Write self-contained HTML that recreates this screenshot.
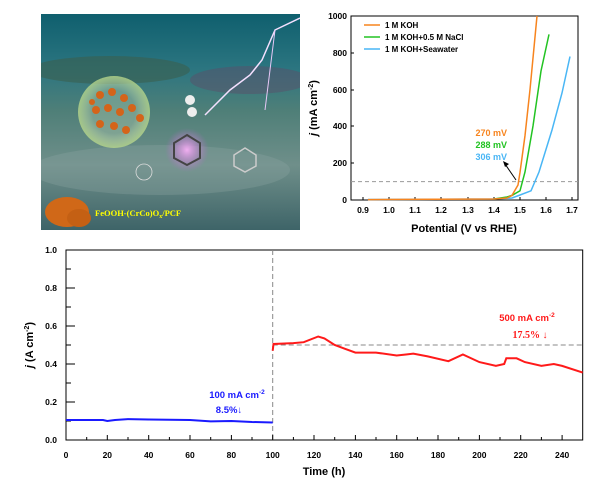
<!DOCTYPE html>
<html><head><meta charset="utf-8"><style>
html,body{margin:0;padding:0;background:#fff;}
svg{display:block;font-family:"Liberation Sans",Arial,sans-serif;}
</style></head><body>
<svg width="600" height="486" viewBox="0 0 600 486" xmlns="http://www.w3.org/2000/svg">
<defs>
<linearGradient id="sea" x1="0" y1="0" x2="0" y2="1">
<stop offset="0" stop-color="#0f5f6e"/><stop offset="0.25" stop-color="#2b7580"/>
<stop offset="0.45" stop-color="#4f7f78"/><stop offset="0.7" stop-color="#6f8f8a"/><stop offset="1" stop-color="#3e6468"/>
</linearGradient>
<radialGradient id="bub" cx="0.5" cy="0.5" r="0.5">
<stop offset="0.6" stop-color="#cfe6c0" stop-opacity="0.3"/><stop offset="1" stop-color="#b8d88a" stop-opacity="0.8"/>
</radialGradient>
<radialGradient id="glow" cx="0.5" cy="0.5" r="0.5">
<stop offset="0" stop-color="#f0b0f0"/><stop offset="1" stop-color="#c060d0" stop-opacity="0"/>
</radialGradient>
<clipPath id="imgc"><rect x="41" y="14" width="259" height="216"/></clipPath>
</defs>
<!-- illustration -->
<g clip-path="url(#imgc)">
<rect x="41" y="14" width="259" height="216" fill="url(#sea)"/>
<ellipse cx="110" cy="70" rx="80" ry="14" fill="#3a5f4e" opacity="0.6"/>
<ellipse cx="250" cy="80" rx="60" ry="14" fill="#5a4f6a" opacity="0.5"/>
<ellipse cx="160" cy="170" rx="130" ry="25" fill="#8aa4a0" opacity="0.35"/>
<circle cx="114" cy="112" r="36" fill="url(#bub)"/>
<g fill="#d4641a">
<circle cx="100" cy="95" r="4"/><circle cx="112" cy="92" r="4"/><circle cx="124" cy="98" r="4"/><circle cx="96" cy="110" r="4"/>
<circle cx="108" cy="108" r="4"/><circle cx="120" cy="112" r="4"/><circle cx="132" cy="108" r="4"/><circle cx="100" cy="124" r="4"/>
<circle cx="114" cy="126" r="4"/><circle cx="126" cy="130" r="4"/><circle cx="140" cy="118" r="4"/><circle cx="92" cy="102" r="3"/>
</g>
<circle cx="187" cy="150" r="22" fill="url(#glow)"/>
<polygon points="187,135 200,143 200,158 187,165 174,158 174,143" fill="none" stroke="#444" stroke-width="2"/>
<polygon points="245,148 256,155 256,166 245,172 234,166 234,155" fill="none" stroke="#ccc" stroke-width="1.5"/>
<polyline points="300,18 275,30 262,60 250,75 230,90 205,115" fill="none" stroke="#f4e0ff" stroke-width="1.5"/>
<polyline points="275,30 270,70 265,110" fill="none" stroke="#e8c8f8" stroke-width="1"/>
<circle cx="190" cy="100" r="5" fill="#eee"/><circle cx="192" cy="112" r="5" fill="#eee"/>
<circle cx="144" cy="172" r="8" fill="none" stroke="#ddd" stroke-width="0.8"/>
<ellipse cx="67" cy="212" rx="22" ry="15" fill="#d06818"/><ellipse cx="79" cy="218" rx="12" ry="9" fill="#c46014"/>
<text x="95" y="216" font-family="Liberation Serif,serif" font-weight="bold" font-size="8.5" fill="#ffff00">FeOOH-(CrCo)O<tspan font-size="6" dy="2">x</tspan><tspan dy="-2">/PCF</tspan></text>
</g>

<!-- top-right LSV -->
<g>
<rect x="351" y="16" width="227" height="184" fill="none" stroke="#000" stroke-width="1"/>
<line x1="351" y1="181.6" x2="578" y2="181.6" stroke="#999" stroke-dasharray="4,3" stroke-width="1"/>
<g stroke="#000" stroke-width="1">
<line x1="363" y1="200" x2="363" y2="197"/><line x1="389" y1="200" x2="389" y2="197"/><line x1="415" y1="200" x2="415" y2="197"/><line x1="441" y1="200" x2="441" y2="197"/><line x1="468" y1="200" x2="468" y2="197"/><line x1="494" y1="200" x2="494" y2="197"/><line x1="520" y1="200" x2="520" y2="197"/><line x1="546" y1="200" x2="546" y2="197"/><line x1="572" y1="200" x2="572" y2="197"/>
<line x1="351" y1="163" x2="354" y2="163"/><line x1="351" y1="126" x2="354" y2="126"/><line x1="351" y1="90" x2="354" y2="90"/><line x1="351" y1="53" x2="354" y2="53"/>
</g>
<g font-size="8.5" font-weight="bold" text-anchor="middle">
<text x="363" y="213">0.9</text><text x="389" y="213">1.0</text><text x="415" y="213">1.1</text><text x="441" y="213">1.2</text><text x="468" y="213">1.3</text><text x="494" y="213">1.4</text><text x="520" y="213">1.5</text><text x="546" y="213">1.6</text><text x="572" y="213">1.7</text>
</g>
<g font-size="8.5" font-weight="bold" text-anchor="end">
<text x="347" y="203">0</text><text x="347" y="166">200</text><text x="347" y="129">400</text><text x="347" y="93">600</text><text x="347" y="56">800</text><text x="347" y="19">1000</text>
</g>
<text x="464" y="232" font-size="11" font-weight="bold" text-anchor="middle">Potential (V vs RHE)</text>
<text transform="translate(317,108) rotate(-90)" font-size="11" font-weight="bold" text-anchor="middle"><tspan font-style="italic">j</tspan> (mA cm<tspan font-size="7" dy="-4">-2</tspan><tspan dy="4">)</tspan></text>
<line x1="364" y1="25" x2="380" y2="25" stroke="#f7841e" stroke-width="1.5"/><text x="385" y="28" font-size="8" font-weight="bold">1 M KOH</text>
<line x1="364" y1="37" x2="380" y2="37" stroke="#22c322" stroke-width="1.5"/><text x="385" y="40" font-size="8" font-weight="bold">1 M KOH+0.5 M NaCl</text>
<line x1="364" y1="49" x2="380" y2="49" stroke="#49b6f5" stroke-width="1.5"/><text x="385" y="52" font-size="8" font-weight="bold">1 M KOH+Seawater</text>
<g font-size="9" font-weight="bold" text-anchor="end">
<text x="507" y="136" fill="#f7841e">270 mV</text><text x="507" y="148" fill="#22c322">288 mV</text><text x="507" y="160" fill="#49b6f5">306 mV</text>
</g>
<line x1="516" y1="180" x2="505" y2="164" stroke="#000" stroke-width="1"/><polygon points="503,161 509,164 505,167" fill="#000"/>
<polyline fill="none" stroke="#49b6f5" stroke-width="1.5" points="368,199.5 494,199 512,198 520,195 531,190.8 539,172 552,130 562,93 570,56.5"/>
<polyline fill="none" stroke="#22c322" stroke-width="1.5" points="494,199 507,197 512,195.4 520,190.8 525,172 533,126 541,71 549,34.4"/>
<polyline fill="none" stroke="#f7841e" stroke-width="1.5" points="368,199.6 494,199 507,198 512,195.4 518,185 520,172.4 525,135.6 530,89.6 537,16"/>
</g>

<!-- bottom stability -->
<g>
<rect x="66" y="250" width="516.7" height="190" fill="none" stroke="#000" stroke-width="1"/>
<line x1="272.7" y1="250" x2="272.7" y2="440" stroke="#888" stroke-dasharray="5,3" stroke-width="1"/>
<line x1="272.7" y1="345" x2="582.7" y2="345" stroke="#888" stroke-dasharray="5,3" stroke-width="1"/>
<g stroke="#000" stroke-width="1">
<line x1="107.3" y1="440" x2="107.3" y2="435"/><line x1="148.7" y1="440" x2="148.7" y2="435"/><line x1="190" y1="440" x2="190" y2="435"/><line x1="231.4" y1="440" x2="231.4" y2="435"/><line x1="272.7" y1="440" x2="272.7" y2="435"/><line x1="314" y1="440" x2="314" y2="435"/><line x1="355.4" y1="440" x2="355.4" y2="435"/><line x1="396.7" y1="440" x2="396.7" y2="435"/><line x1="438" y1="440" x2="438" y2="435"/><line x1="479.4" y1="440" x2="479.4" y2="435"/><line x1="520.7" y1="440" x2="520.7" y2="435"/><line x1="562.1" y1="440" x2="562.1" y2="435"/>
<line x1="86.7" y1="440" x2="86.7" y2="437"/><line x1="128" y1="440" x2="128" y2="437"/><line x1="169.4" y1="440" x2="169.4" y2="437"/><line x1="210.7" y1="440" x2="210.7" y2="437"/><line x1="252" y1="440" x2="252" y2="437"/><line x1="293.4" y1="440" x2="293.4" y2="437"/><line x1="334.7" y1="440" x2="334.7" y2="437"/><line x1="376" y1="440" x2="376" y2="437"/><line x1="417.4" y1="440" x2="417.4" y2="437"/><line x1="458.7" y1="440" x2="458.7" y2="437"/><line x1="500" y1="440" x2="500" y2="437"/><line x1="541.4" y1="440" x2="541.4" y2="437"/>
<line x1="66" y1="402" x2="75" y2="402"/><line x1="66" y1="364" x2="75" y2="364"/><line x1="66" y1="326" x2="75" y2="326"/><line x1="66" y1="288" x2="75" y2="288"/>
<line x1="66" y1="421" x2="71" y2="421"/><line x1="66" y1="383" x2="71" y2="383"/><line x1="66" y1="345" x2="71" y2="345"/><line x1="66" y1="307" x2="71" y2="307"/><line x1="66" y1="269" x2="71" y2="269"/>
</g>
<g font-size="8.5" font-weight="bold" text-anchor="middle">
<text x="66" y="458">0</text><text x="107.3" y="458">20</text><text x="148.7" y="458">40</text><text x="190" y="458">60</text><text x="231.4" y="458">80</text><text x="272.7" y="458">100</text><text x="314" y="458">120</text><text x="355.4" y="458">140</text><text x="396.7" y="458">160</text><text x="438" y="458">180</text><text x="479.4" y="458">200</text><text x="520.7" y="458">220</text><text x="562.1" y="458">240</text>
</g>
<g font-size="8.5" font-weight="bold" text-anchor="end">
<text x="57" y="443">0.0</text><text x="57" y="405">0.2</text><text x="57" y="367">0.4</text><text x="57" y="329">0.6</text><text x="57" y="291">0.8</text><text x="57" y="253">1.0</text>
</g>
<text x="324" y="475" font-size="11" font-weight="bold" text-anchor="middle">Time (h)</text>
<text transform="translate(33,345) rotate(-90)" font-size="11" font-weight="bold" text-anchor="middle"><tspan font-style="italic">j</tspan> (A cm<tspan font-size="7" dy="-4">-2</tspan><tspan dy="4">)</tspan></text>
<polyline fill="none" stroke="#1a1aff" stroke-width="2" points="66,420 103,420 107.3,421 115,420 128,419.1 148.7,419.5 190,420 210.7,421.4 231.4,421 252,422 272.7,422.5"/>
<polyline fill="none" stroke="#ff1a1a" stroke-width="2" points="272.7,350.7 273.5,344 293.4,343.1 303.7,342.2 318.2,336.5 324.4,338.4 334.7,345 345,348.8 355.4,352.6 376,352.6 396.7,355.5 406,354.5 413.3,353.6 427.7,356.4 448.4,361.2 462.9,354.5 479.4,362.1 495.9,365.9 504.2,364 506.3,358.3 516.6,358.3 524.9,362.1 541.4,365.9 553.8,364 562.1,365.9 582.7,372.6"/>
<g font-size="9.5" font-weight="bold" text-anchor="middle">
<text x="527" y="321" fill="#ff1a1a">500 mA cm<tspan font-size="6.5" dy="-4">-2</tspan></text>
<text x="530" y="338" fill="#ff1a1a" font-family="Liberation Serif,serif" font-size="10">17.5% ↓</text>
<text x="237" y="398" fill="#1a1aff">100 mA cm<tspan font-size="6.5" dy="-4">-2</tspan></text>
<text x="229" y="413" fill="#1a1aff">8.5%↓</text>
</g>
</g>
</svg>
</body></html>
